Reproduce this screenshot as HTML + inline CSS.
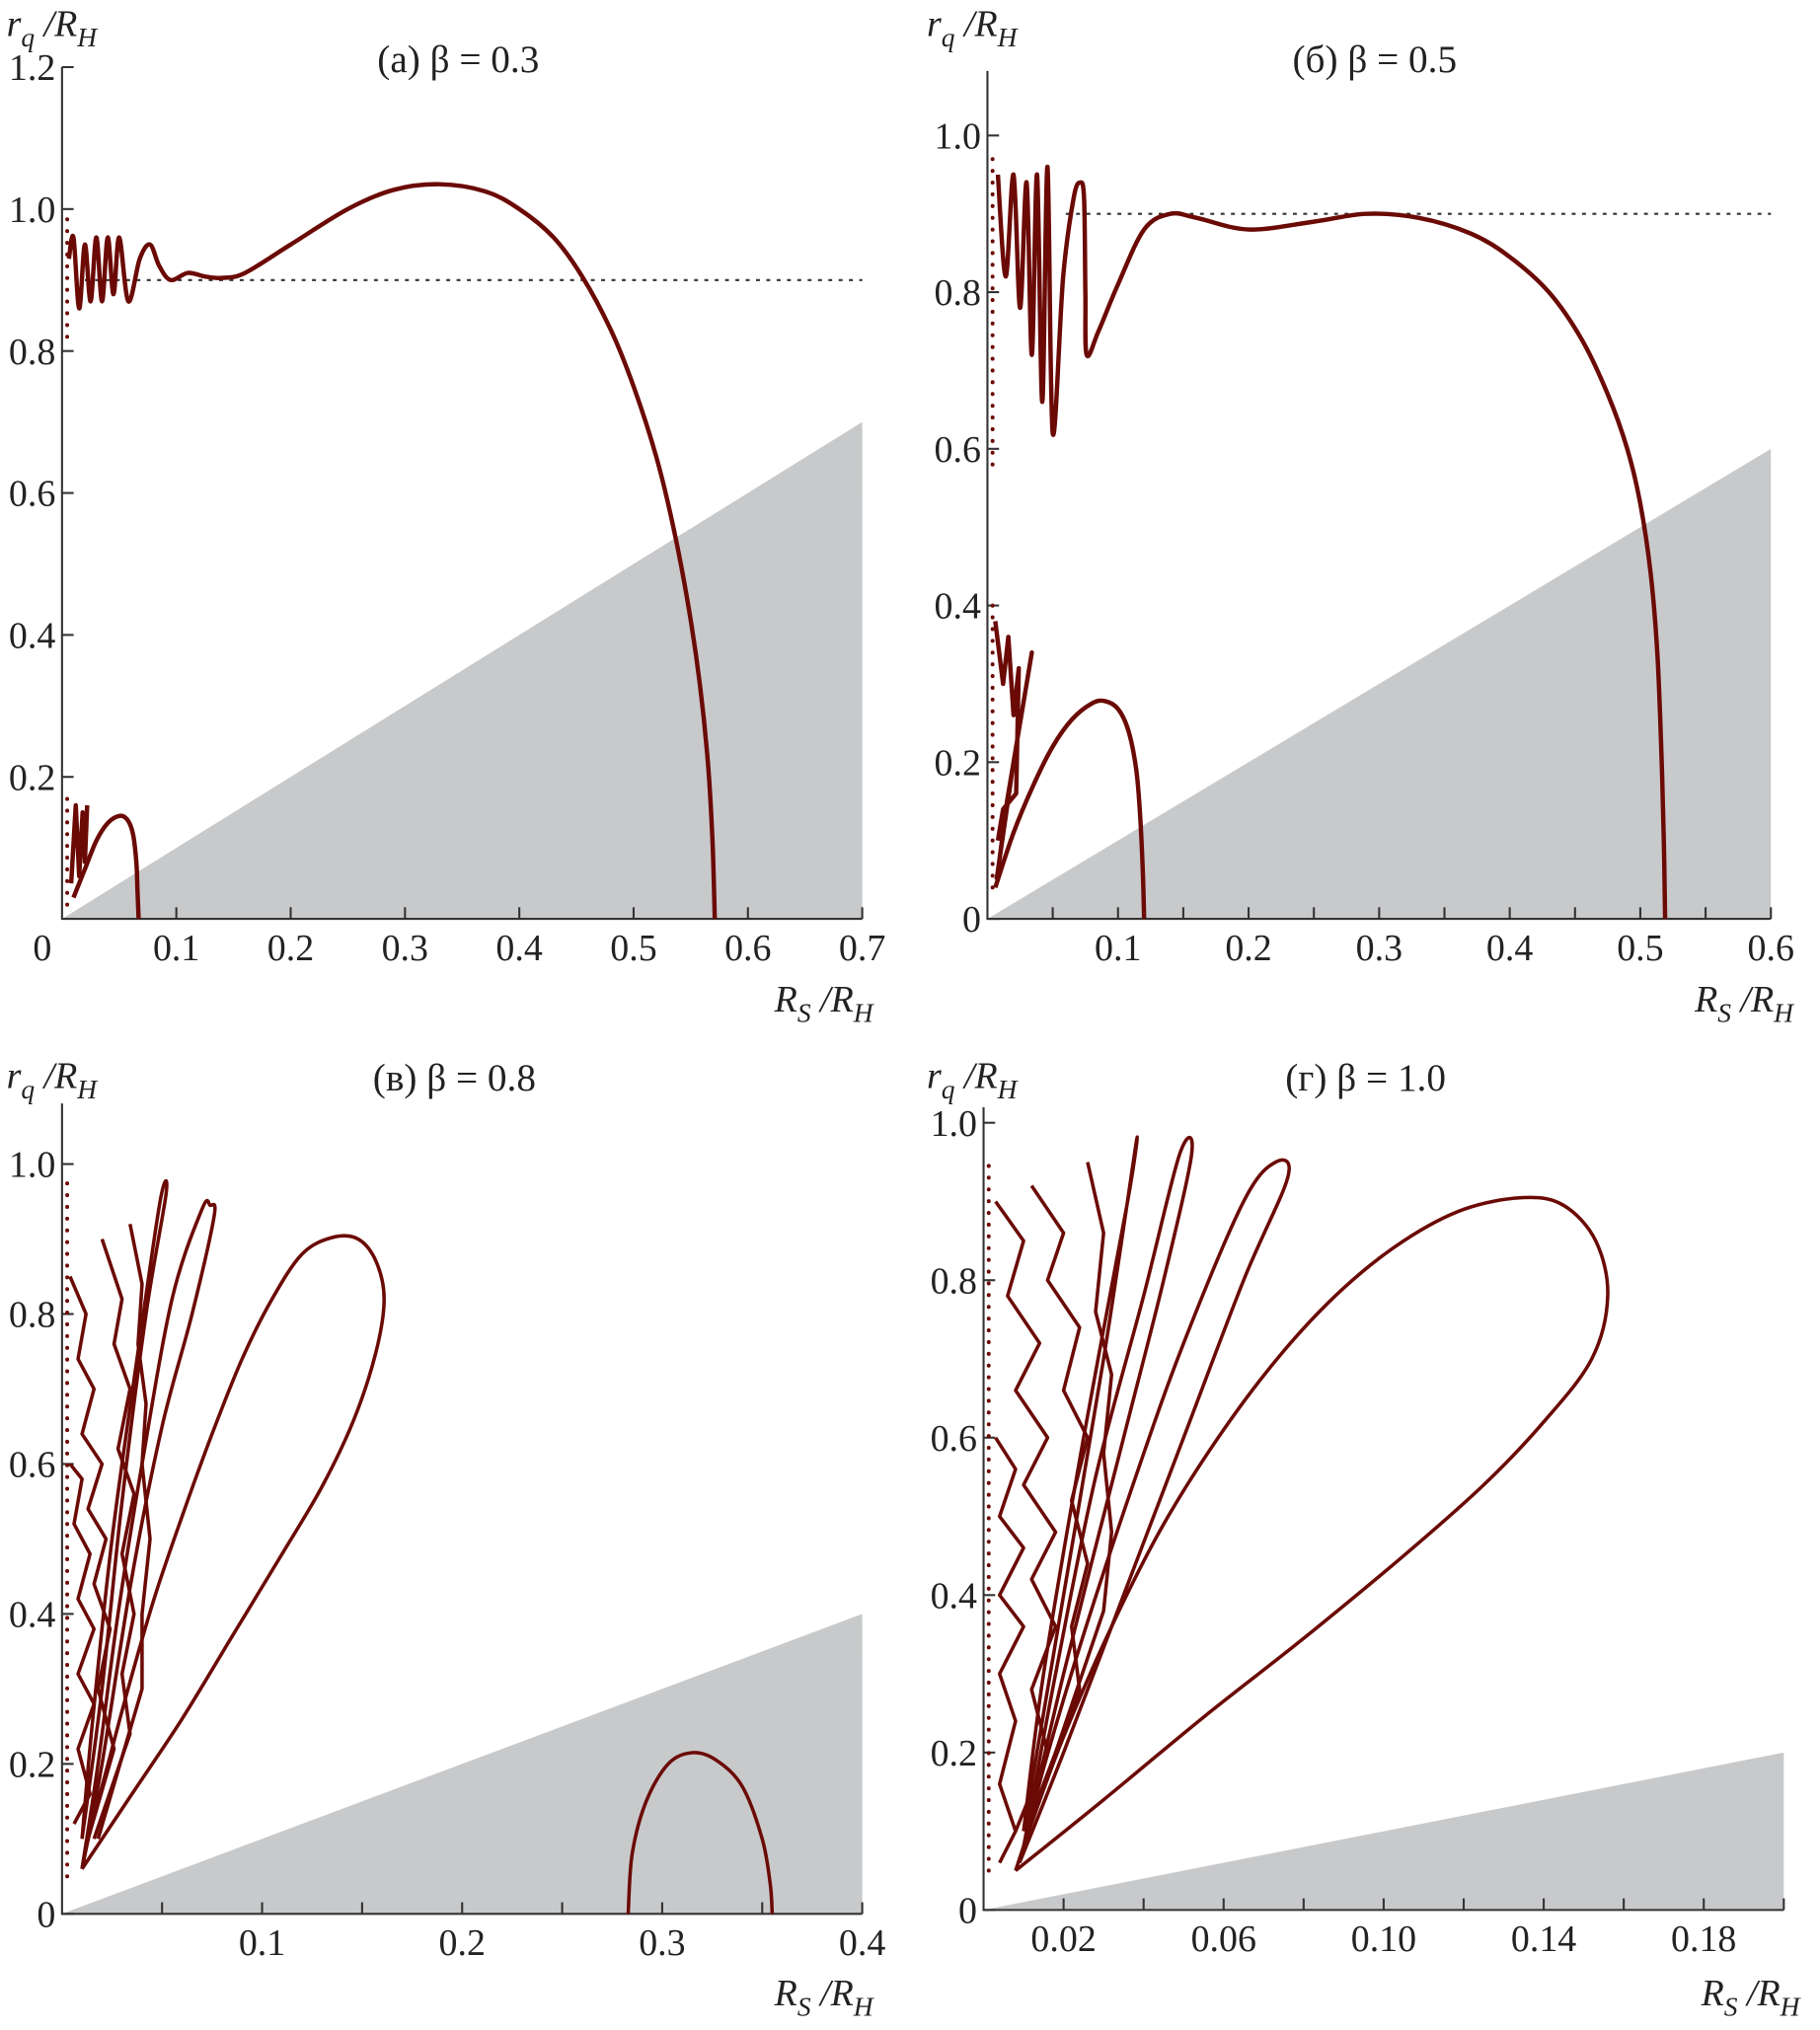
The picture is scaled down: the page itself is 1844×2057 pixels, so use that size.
<!DOCTYPE html>
<html><head><meta charset="utf-8">
<style>
html,body{margin:0;padding:0;background:#fff;}
svg{display:block;}
text{font-family:"Liberation Serif",serif;fill:#222;}
</style></head>
<body>
<svg id="fig" xmlns="http://www.w3.org/2000/svg" width="1844" height="2057" viewBox="0 0 1410 1573"></svg>
<script>
// ---------- DATA ----------
const panelTitles = ["(a) β = 0.3", "(б) β = 0.5", "(в) β = 0.8", "(г) β = 1.0"];
const xMaxes = [0.7, 0.6, 0.4, 0.2];
const xTicksA = [0.1,0.2,0.3,0.4,0.5,0.6,0.7];
const xTickLabelsA = ["0.1","0.2","0.3","0.4","0.5","0.6","0.7"];
const xTicksB = [0.05,0.1,0.15,0.2,0.25,0.3,0.35,0.4,0.45,0.5,0.55,0.6];
const xTickLabelsB = ["","0.1","","0.2","","0.3","","0.4","","0.5","","0.6"];
const xTicksC = [0.05,0.1,0.15,0.2,0.25,0.3,0.35,0.4];
const xTickLabelsC = ["","0.1","","0.2","","0.3","","0.4"];
const xTicksD = [0.02,0.04,0.06,0.08,0.10,0.12,0.14,0.16,0.18,0.20];
const xTickLabelsD = ["0.02","","0.06","","0.10","","0.14","","0.18",""];
const yTicksA = [0.2,0.4,0.6,0.8,1.0,1.2];
const yTickLabelsA = ["0.2","0.4","0.6","0.8","1.0","1.2"];
const yTicksBCD = [0,0.2,0.4,0.6,0.8,1.0];
const yTickLabelsBCD = ["0","0.2","0.4","0.6","0.8","1.0"];
const dottedLevels = [0.9, 0.9, null, null];
const dottedStarts = [0.02, 0.06, null, null];

const curveA_main = [[0.006,0.93],[0.01,0.96],[0.015,0.86],[0.02,0.95],[0.025,0.87],[0.03,0.96],[0.035,0.87],[0.04,0.96],[0.045,0.88],[0.05,0.96],[0.058,0.87],[0.068,0.93],[0.077,0.95],[0.085,0.92],[0.095,0.90],[0.11,0.91],[0.125,0.905],[0.14,0.903],[0.16,0.91],[0.2,0.95],[0.25,1.0],[0.29,1.027],[0.33,1.035],[0.37,1.025],[0.4,1.0],[0.43,0.96],[0.455,0.905],[0.48,0.83],[0.5,0.75],[0.52,0.65],[0.535,0.55],[0.548,0.44],[0.558,0.33],[0.565,0.22],[0.569,0.11],[0.571,0.0]];
const curveA_arch = [[0.01,0.03],[0.02,0.07],[0.03,0.11],[0.04,0.135],[0.05,0.145],[0.057,0.14],[0.062,0.12],[0.065,0.08],[0.066,0.04],[0.067,0.0]];
const sqA_1 = [[0.008,0.05],[0.012,0.16],[0.015,0.06],[0.018,0.15],[0.02,0.08],[0.022,0.16]];
const curveB_main = [[0.008,0.95],[0.014,0.82],[0.02,0.95],[0.025,0.78],[0.03,0.94],[0.034,0.72],[0.038,0.95],[0.042,0.66],[0.046,0.96],[0.05,0.62],[0.058,0.82],[0.066,0.92],[0.071,0.94],[0.074,0.92],[0.075,0.80],[0.076,0.72],[0.085,0.75],[0.1,0.81],[0.12,0.88],[0.14,0.9],[0.16,0.895],[0.2,0.88],[0.25,0.89],[0.29,0.9],[0.33,0.895],[0.37,0.875],[0.4,0.845],[0.43,0.8],[0.455,0.74],[0.475,0.67],[0.49,0.6],[0.5,0.53],[0.508,0.44],[0.513,0.34],[0.516,0.22],[0.518,0.1],[0.519,0.0]];
const curveB_arch = [[0.006,0.04],[0.02,0.11],[0.035,0.17],[0.05,0.22],[0.065,0.255],[0.08,0.275],[0.09,0.278],[0.1,0.268],[0.108,0.24],[0.114,0.19],[0.117,0.13],[0.119,0.06],[0.12,0.0]];
const sqB_1 = [[0.007,0.05],[0.02,0.2],[0.034,0.34],[0.032,0.32],[0.015,0.15],[0.008,0.06]];
const sqB_2 = [[0.006,0.38],[0.012,0.3],[0.016,0.36],[0.02,0.26],[0.024,0.32],[0.022,0.16],[0.012,0.14],[0.008,0.1]];
const curveC_arch = [[0.283,0.0],[0.285,0.08],[0.292,0.15],[0.303,0.2],[0.315,0.215],[0.327,0.205],[0.34,0.17],[0.35,0.1],[0.354,0.04],[0.355,0.0]];
const curveC_loop1 = [[0.01,0.06],[0.035,0.16],[0.06,0.26],[0.085,0.37],[0.11,0.48],[0.13,0.57],[0.146,0.66],[0.157,0.75],[0.161,0.82],[0.157,0.87],[0.148,0.9],[0.135,0.902],[0.12,0.88],[0.105,0.82],[0.09,0.74],[0.075,0.64],[0.06,0.53],[0.046,0.42],[0.033,0.3],[0.022,0.19],[0.014,0.11],[0.01,0.06]];
const curveC_loop2 = [[0.01,0.06],[0.02,0.2],[0.035,0.45],[0.05,0.65],[0.065,0.8],[0.076,0.93],[0.074,0.945],[0.07,0.94],[0.055,0.82],[0.04,0.6],[0.028,0.4],[0.018,0.2],[0.01,0.06]];
const curveC_loop3 = [[0.01,0.1],[0.02,0.3],[0.03,0.55],[0.042,0.8],[0.052,0.96],[0.049,0.95],[0.038,0.75],[0.025,0.5],[0.015,0.25],[0.01,0.1]];
const sqC_1 = [[0.004,0.85],[0.012,0.8],[0.008,0.74],[0.016,0.7],[0.01,0.64],[0.02,0.6],[0.013,0.54],[0.022,0.5],[0.016,0.44],[0.024,0.38],[0.018,0.3],[0.026,0.22],[0.013,0.1]];
const sqC_2 = [[0.02,0.9],[0.03,0.82],[0.026,0.76],[0.034,0.7],[0.028,0.62],[0.036,0.56],[0.03,0.48],[0.036,0.4],[0.03,0.32],[0.034,0.24],[0.016,0.1]];
const sqC_3 = [[0.034,0.92],[0.04,0.84],[0.038,0.76],[0.042,0.68],[0.04,0.6],[0.044,0.5],[0.04,0.4],[0.04,0.3],[0.018,0.1]];
const sqC_4 = [[0.004,0.6],[0.01,0.58],[0.006,0.52],[0.014,0.48],[0.008,0.42],[0.016,0.38],[0.008,0.32],[0.016,0.28],[0.008,0.22],[0.014,0.16],[0.006,0.12]];
const curveD_loop1 = [[0.008,0.05],[0.03,0.14],[0.055,0.245],[0.08,0.345],[0.105,0.45],[0.125,0.54],[0.14,0.62],[0.152,0.7],[0.156,0.78],[0.153,0.85],[0.145,0.895],[0.135,0.905],[0.12,0.89],[0.105,0.85],[0.09,0.79],[0.075,0.71],[0.06,0.61],[0.045,0.49],[0.032,0.36],[0.02,0.22],[0.012,0.11],[0.008,0.05]];
const curveD_loop2 = [[0.009,0.06],[0.02,0.2],[0.035,0.4],[0.05,0.6],[0.065,0.8],[0.076,0.93],[0.073,0.95],[0.065,0.9],[0.05,0.72],[0.038,0.55],[0.025,0.35],[0.015,0.18],[0.009,0.06]];
const curveD_loop3 = [[0.01,0.08],[0.02,0.3],[0.035,0.6],[0.045,0.8],[0.052,0.96],[0.049,0.96],[0.04,0.78],[0.028,0.55],[0.018,0.3],[0.01,0.08]];
const curveD_loop4 = [[0.01,0.1],[0.02,0.4],[0.03,0.7],[0.038,0.97],[0.036,0.9],[0.025,0.6],[0.015,0.3],[0.01,0.1]];
const sqD_1 = [[0.003,0.9],[0.01,0.85],[0.006,0.78],[0.014,0.72],[0.008,0.66],[0.016,0.6],[0.01,0.54],[0.018,0.48],[0.012,0.42],[0.018,0.36],[0.012,0.28],[0.016,0.2],[0.008,0.1]];
const sqD_2 = [[0.012,0.92],[0.02,0.86],[0.016,0.8],[0.024,0.74],[0.02,0.66],[0.026,0.6],[0.022,0.52],[0.026,0.44],[0.022,0.36],[0.024,0.28],[0.012,0.12]];
const sqD_3 = [[0.026,0.95],[0.03,0.86],[0.028,0.76],[0.032,0.68],[0.03,0.58],[0.032,0.48],[0.03,0.38],[0.014,0.14]];
const sqD_4 = [[0.003,0.6],[0.008,0.56],[0.004,0.5],[0.01,0.46],[0.004,0.4],[0.01,0.36],[0.004,0.3],[0.008,0.24],[0.004,0.16],[0.008,0.1],[0.004,0.06]];

const panelCurves = [
  [curveA_main, curveA_arch],
  [curveB_main, curveB_arch],
  [curveC_arch, curveC_loop1, curveC_loop2, curveC_loop3],
  [curveD_loop1, curveD_loop2, curveD_loop3, curveD_loop4]
];
const panelSquiggles = [
  [sqA_1],
  [sqB_1, sqB_2],
  [sqC_1, sqC_2, sqC_3, sqC_4],
  [sqD_1, sqD_2, sqD_3, sqD_4]
];
const dotRanges = [[[0.82,1.0],[0.02,0.18]],[[0.58,0.98],[0.04,0.4]],[[0.05,0.98]],[[0.05,0.96]]];

// ---------- LAYOUT ----------
const panels = [
  {x0:48, x1:668, y0:712, yTop:52, yScale:550, xt:xTicksA, xl:xTickLabelsA, yt:yTicksA, yl:yTickLabelsA, origin:true, titleX:355, titleY:56, labX:5, labY:28, rsX:600, rsY:784, sw:3.4},
  {x0:765, x1:1372, y0:712, yTop:55, yScale:607, xt:xTicksB, xl:xTickLabelsB, yt:yTicksBCD, yl:yTickLabelsBCD, origin:false, titleX:1065, titleY:56, labX:718, labY:28, rsX:1313, rsY:784, sw:3.4},
  {x0:48, x1:668, y0:1483, yTop:855, yScale:581, xt:xTicksC, xl:xTickLabelsC, yt:yTicksBCD, yl:yTickLabelsBCD, origin:false, titleX:352, titleY:845, labX:5, labY:843, rsX:600, rsY:1554, sw:2.7},
  {x0:762, x1:1382, y0:1480, yTop:858, yScale:610, xt:xTicksD, xl:xTickLabelsD, yt:yTicksBCD, yl:yTickLabelsBCD, origin:false, titleX:1058, titleY:845, labX:718, labY:843, rsX:1318, rsY:1554, sw:2.7}
];
const NS = "http://www.w3.org/2000/svg";
const svg = document.getElementById("fig");
function mk(tag, attrs, parent){const e=document.createElementNS(NS,tag);for(const k in attrs)e.setAttribute(k,attrs[k]);(parent||svg).appendChild(e);return e;}
function spline(pts){
  if(pts.length<3) return "M"+pts.map(p=>p.join(",")).join("L");
  let d="M"+pts[0][0]+","+pts[0][1];
  for(let i=0;i<pts.length-1;i++){
    const p0=pts[Math.max(0,i-1)],p1=pts[i],p2=pts[i+1],p3=pts[Math.min(pts.length-1,i+2)];
    const c1=[p1[0]+(p2[0]-p0[0])/6,p1[1]+(p2[1]-p0[1])/6];
    const c2=[p2[0]-(p3[0]-p1[0])/6,p2[1]-(p3[1]-p1[1])/6];
    d+="C"+c1.join(",")+" "+c2.join(",")+" "+p2.join(",");
  }
  return d;
}

panels.forEach((P,pi)=>{
  const xs = v => P.x0 + v/xMaxes[pi]*(P.x1-P.x0);
  const ys = v => P.y0 - v*P.yScale;
  const g = mk("g",{});
  
  
  const tri = mk("polygon",{points:`${xs(0)},${ys(0)} ${xs(xMaxes[pi])},${ys(xMaxes[pi])} ${xs(xMaxes[pi])},${ys(0)}`,fill:"#c8c9cb"},g);
  
  
  if(dottedLevels[pi]!==null){
    const dl = mk("line",{x1:xs(dottedStarts[pi]),x2:xs(xMaxes[pi]),y1:ys(dottedLevels[pi]),y2:ys(dottedLevels[pi]),stroke:"#333","stroke-width":1.6,"stroke-dasharray":"3,5"},g);
    
    
  }
  const ax = mk("path",{d:`M${P.x0},${P.yTop}V${P.y0}H${P.x1}`,stroke:"#333","stroke-width":1.6,fill:"none"},g);
  
  
  P.xt.forEach((t,i)=>{
    mk("line",{x1:xs(t),x2:xs(t),y1:P.y0,y2:P.y0-9,stroke:"#333","stroke-width":1.6},g);
    if(P.xl[i]){
      const tx = mk("text",{x:xs(t),y:P.y0+32,"text-anchor":"middle","font-size":29},g);
      tx.textContent=P.xl[i];
      
      
    }
  });
  P.yt.forEach((t,i)=>{
    mk("line",{x1:P.x0,x2:P.x0+9,y1:ys(t),y2:ys(t),stroke:"#333","stroke-width":1.6},g);
    const tx = mk("text",{x:P.x0-5,y:ys(t)+10,"text-anchor":"end","font-size":29},g);
    tx.textContent=P.yl[i];
    
    
  });
  if(P.origin){
    const o = mk("text",{x:P.x0-8,y:P.y0+32,"text-anchor":"end","font-size":29},g);
    o.textContent="0";
    
    
  }
  const ti = mk("text",{x:P.titleX,y:P.titleY,"text-anchor":"middle","font-size":30},g);
  ti.textContent=panelTitles[pi];
  
  
  const yl = mk("text",{x:P.labX,y:P.labY,"font-size":29,"font-style":"italic"},g);
  yl.innerHTML='r<tspan dy="8" font-size="21">q</tspan><tspan dy="-8"> /R</tspan><tspan dy="8" font-size="21">H</tspan>';
  
  
  const xl = mk("text",{x:P.rsX,y:P.rsY,"font-size":29,"font-style":"italic"},g);
  xl.innerHTML='R<tspan dy="8" font-size="21">S</tspan><tspan dy="-8"> /R</tspan><tspan dy="8" font-size="21">H</tspan>';
  
  
  dotRanges[pi].forEach(r=>{
    const dt = mk("line",{x1:P.x0+4,x2:P.x0+4,y1:ys(r[0]),y2:ys(r[1]),stroke:"#6b0a05","stroke-width":3,"stroke-linecap":"round","stroke-dasharray":"0.1,9"},g);
    
    
  });
  panelCurves[pi].forEach(c=>{
    const pts = c.map(p=>[+xs(p[0]).toFixed(2),+ys(p[1]).toFixed(2)]);
    const path = mk("path",{d:spline(pts),stroke:"#6b0a05","stroke-width":P.sw,fill:"none","stroke-linejoin":"round"},g);
    
    
  });
  panelSquiggles[pi].forEach(c=>{
    const pts = c.map(p=>xs(p[0]).toFixed(2)+","+ys(p[1]).toFixed(2)).join(" ");
    const pl = mk("polyline",{points:pts,stroke:"#6b0a05","stroke-width":P.sw,fill:"none","stroke-linejoin":"round"},g);
    
    
  });
});
</script>
</body></html>
